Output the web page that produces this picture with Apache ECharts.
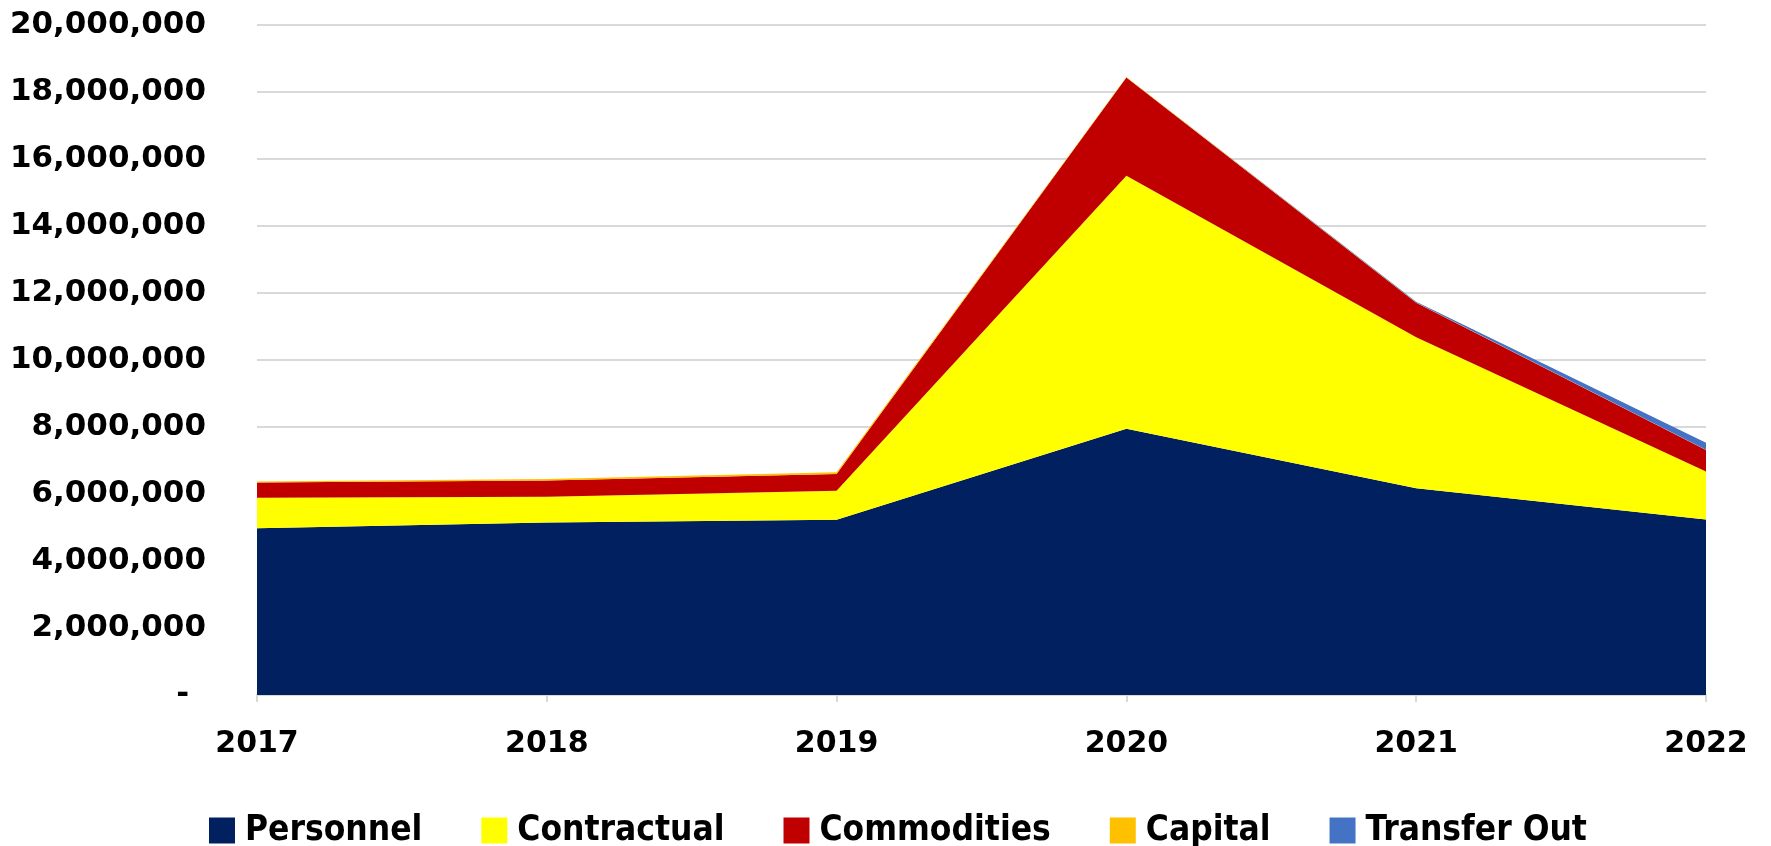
<!DOCTYPE html>
<html>
<head>
<meta charset="utf-8">
<script src="https://cdn.jsdelivr.net/npm/echarts@6/dist/echarts.min.js"></script>
<style>
html,body{margin:0;padding:0;background:#fff;}
#c{width:1771px;height:846px;}
</style>
</head>
<body>
<div id="c"></div>
<script>
const years = ['2017','2018','2019','2020','2021','2022'];
const personnel   = [4980000, 5150000, 5230000, 7950000, 6170000, 5240000];
const contractual = [910000, 770000, 870000, 7550000, 4510000, 1430000];
const commodities = [450000, 480000, 500000, 2930000, 1030000, 640000];
const capital     = [30000, 50000, 50000, 20000, 10000, 10000];
const transferOut = [0, 0, 0, 0, 20000, 210000];
const seriesNames = ['Personnel','Contractual','Commodities','Capital','Transfer Out'];
const seriesColors = ['#002060','#FFFF00','#C00000','#FFC000','#4472C4'];
const seriesData = [personnel, contractual, commodities, capital, transferOut];

const chart = echarts.init(document.getElementById('c'));
const fmt = v => v === 0 ? '{d|-}' : v.toString().replace(/\B(?=(\d{3})+(?!\d))/g, ',');

chart.setOption({
  animation: false,
  grid: {left: 257, right: 65, top: 25, bottom: 151, containLabel: false},
  legend: {
    left: 204, top: 808,
    itemWidth: 26, itemHeight: 26, itemGap: 59,
    icon: 'rect',
    textStyle: {fontFamily: 'DejaVu Sans Condensed', fontWeight: 'bold', fontSize: 35, color: '#000', padding: [0,0,0,5]},
    data: seriesNames
  },
  xAxis: {
    type: 'category', data: years, boundaryGap: false,
    axisLine: {lineStyle: {color: '#d9d9d9', width: 2}},
    axisTick: {show: true, alignWithLabel: true, length: 7, lineStyle: {color: '#d9d9d9', width: 2}},
    axisLabel: {margin: 34, fontFamily: 'DejaVu Sans', fontWeight: 'bold', fontSize: 30, color: '#000'},
    splitLine: {show: false}
  },
  yAxis: {
    type: 'value', min: 0, max: 20000000, interval: 2000000,
    axisLine: {show: false}, axisTick: {show: false},
    axisLabel: {
      margin: 51, formatter: fmt,
      fontFamily: 'DejaVu Sans', fontWeight: 'bold', fontSize: 31, color: '#000',
      rich: {d: {fontFamily: 'DejaVu Sans', fontWeight: 'bold', fontSize: 31, color: '#000', padding: [0,17,0,0]}}
    },
    splitLine: {lineStyle: {color: '#d9d9d9', width: 2}}
  },
  series: seriesNames.map((n, i) => ({
    name: n, type: 'line', stack: 'total', data: seriesData[i],
    symbol: 'none', showSymbol: false,
    lineStyle: {width: 0},
    areaStyle: {color: seriesColors[i], opacity: 1},
    itemStyle: {color: seriesColors[i]},
    emphasis: {disabled: true}
  }))
});
</script>
</body>
</html>
